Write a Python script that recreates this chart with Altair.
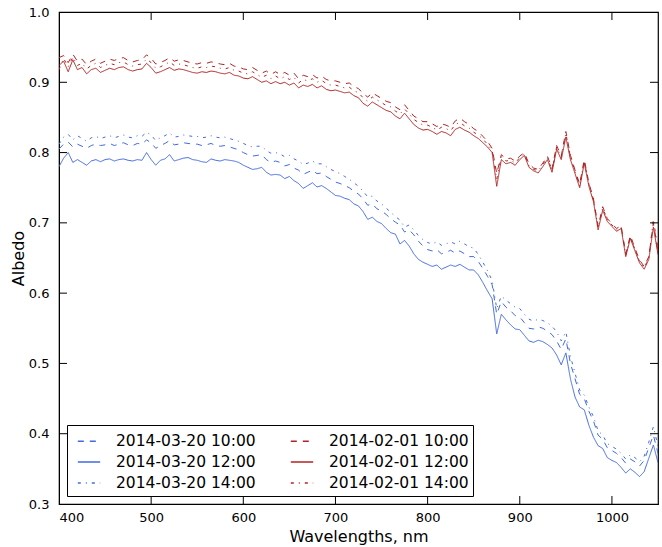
import altair as alt
import pandas as pd

wavelengths = list(range(400, 1051, 5))

b10 = [0.805, 0.812, 0.815, 0.808, 0.812, 0.809, 0.806, 0.810, 0.812, 0.810,
       0.811, 0.813, 0.810, 0.812, 0.814, 0.811, 0.810, 0.813, 0.812, 0.818,
       0.814, 0.806, 0.810, 0.813, 0.817, 0.811, 0.812, 0.814, 0.813, 0.812,
       0.812, 0.810, 0.811, 0.813, 0.810, 0.809, 0.810, 0.808, 0.806, 0.804,
       0.800, 0.797, 0.795, 0.796, 0.797, 0.790, 0.786, 0.788, 0.786, 0.781,
       0.783, 0.778, 0.775, 0.769, 0.772, 0.775, 0.770, 0.771, 0.766, 0.762,
       0.758, 0.756, 0.753, 0.750, 0.745, 0.741, 0.734, 0.725, 0.727, 0.720,
       0.717, 0.712, 0.706, 0.701, 0.697, 0.687, 0.690, 0.683, 0.674, 0.667,
       0.662, 0.660, 0.662, 0.656, 0.658, 0.661, 0.657, 0.660, 0.656, 0.652,
       0.652, 0.645, 0.635, 0.624, 0.612, 0.570, 0.588, 0.580, 0.575, 0.568,
       0.566, 0.558, 0.550, 0.549, 0.552, 0.550, 0.546, 0.541, 0.532, 0.520,
       0.535, 0.500, 0.478, 0.456, 0.450, 0.432, 0.418, 0.398, 0.392, 0.380,
       0.376, 0.372, 0.366, 0.358, 0.364, 0.360, 0.354, 0.362, 0.380, 0.398,
       0.372]

b12 = [0.780, 0.792, 0.800, 0.786, 0.790, 0.786, 0.782, 0.788, 0.790, 0.787,
       0.790, 0.791, 0.788, 0.790, 0.791, 0.789, 0.788, 0.790, 0.789, 0.800,
       0.790, 0.782, 0.789, 0.791, 0.797, 0.788, 0.790, 0.792, 0.793, 0.790,
       0.789, 0.787, 0.786, 0.791, 0.789, 0.788, 0.790, 0.789, 0.788, 0.786,
       0.782, 0.779, 0.776, 0.777, 0.779, 0.772, 0.768, 0.769, 0.768, 0.763,
       0.766, 0.760, 0.756, 0.749, 0.753, 0.757, 0.751, 0.753, 0.749, 0.744,
       0.739, 0.738, 0.735, 0.733, 0.727, 0.724, 0.716, 0.705, 0.708, 0.702,
       0.699, 0.692, 0.686, 0.684, 0.670, 0.675, 0.667, 0.656, 0.648, 0.644,
       0.641, 0.638, 0.640, 0.634, 0.637, 0.640, 0.638, 0.641, 0.637, 0.633,
       0.633, 0.626, 0.615, 0.603, 0.592, 0.542, 0.570, 0.562, 0.555, 0.549,
       0.548, 0.540, 0.532, 0.530, 0.533, 0.531, 0.527, 0.522, 0.512, 0.498,
       0.515, 0.478, 0.452, 0.438, 0.434, 0.412, 0.395, 0.383, 0.379, 0.366,
       0.362, 0.359, 0.352, 0.344, 0.350, 0.345, 0.339, 0.346, 0.365, 0.384,
       0.359]

b14 = [0.812, 0.822, 0.826, 0.818, 0.824, 0.820, 0.816, 0.821, 0.823, 0.820,
       0.822, 0.824, 0.821, 0.823, 0.825, 0.822, 0.821, 0.824, 0.823, 0.829,
       0.825, 0.817, 0.821, 0.824, 0.828, 0.822, 0.823, 0.825, 0.824, 0.823,
       0.823, 0.821, 0.822, 0.824, 0.822, 0.821, 0.822, 0.820, 0.818, 0.816,
       0.813, 0.810, 0.808, 0.809, 0.809, 0.803, 0.799, 0.800, 0.798, 0.794,
       0.796, 0.791, 0.788, 0.783, 0.785, 0.788, 0.784, 0.784, 0.780, 0.776,
       0.773, 0.770, 0.766, 0.762, 0.757, 0.752, 0.745, 0.737, 0.738, 0.731,
       0.727, 0.721, 0.715, 0.709, 0.704, 0.694, 0.697, 0.690, 0.682, 0.676,
       0.672, 0.670, 0.673, 0.668, 0.670, 0.673, 0.670, 0.674, 0.670, 0.666,
       0.664, 0.655, 0.644, 0.632, 0.618, 0.578, 0.596, 0.590, 0.585, 0.580,
       0.578, 0.570, 0.563, 0.560, 0.563, 0.561, 0.558, 0.553, 0.545, 0.532,
       0.545, 0.510, 0.486, 0.462, 0.455, 0.438, 0.424, 0.404, 0.398, 0.386,
       0.382, 0.378, 0.372, 0.364, 0.370, 0.366, 0.360, 0.368, 0.388, 0.410,
       0.382]

r10 = [0.935, 0.938, 0.928, 0.940, 0.930, 0.933, 0.925, 0.930, 0.933, 0.927,
       0.930, 0.933, 0.931, 0.934, 0.935, 0.931, 0.929, 0.931, 0.932, 0.939,
       0.934, 0.926, 0.928, 0.931, 0.935, 0.930, 0.932, 0.931, 0.929, 0.927,
       0.926, 0.928, 0.927, 0.929, 0.928, 0.926, 0.925, 0.927, 0.923, 0.922,
       0.919, 0.918, 0.921, 0.917, 0.913, 0.916, 0.911, 0.915, 0.911, 0.914,
       0.910, 0.913, 0.905, 0.910, 0.908, 0.911, 0.906, 0.909, 0.904, 0.902,
       0.902, 0.900, 0.898, 0.899, 0.894, 0.891, 0.884, 0.879, 0.885, 0.881,
       0.877, 0.873, 0.871, 0.865, 0.861, 0.868, 0.860, 0.852, 0.848, 0.844,
       0.844, 0.841, 0.837, 0.841, 0.839, 0.836, 0.845, 0.849, 0.844, 0.840,
       0.834, 0.830, 0.823, 0.816, 0.806, 0.770, 0.797, 0.791, 0.792, 0.788,
       0.795, 0.800, 0.784, 0.778, 0.776, 0.785, 0.795, 0.777, 0.810, 0.795,
       0.830, 0.796, 0.775, 0.755, 0.790, 0.757, 0.734, 0.695, 0.723, 0.706,
       0.699, 0.692, 0.696, 0.656, 0.682, 0.664, 0.647, 0.638, 0.652, 0.700,
       0.660]

r12 = [0.924, 0.930, 0.915, 0.932, 0.918, 0.921, 0.912, 0.918, 0.920, 0.914,
       0.917, 0.920, 0.918, 0.921, 0.922, 0.918, 0.916, 0.918, 0.919, 0.927,
       0.921, 0.913, 0.915, 0.918, 0.921, 0.917, 0.919, 0.918, 0.916, 0.914,
       0.913, 0.915, 0.914, 0.916, 0.915, 0.913, 0.912, 0.914, 0.910, 0.909,
       0.906, 0.905, 0.908, 0.904, 0.900, 0.902, 0.898, 0.901, 0.898, 0.900,
       0.896, 0.899, 0.892, 0.896, 0.894, 0.897, 0.892, 0.895, 0.890, 0.888,
       0.889, 0.887, 0.885, 0.886, 0.881, 0.878, 0.870, 0.866, 0.872, 0.868,
       0.864, 0.860, 0.858, 0.852, 0.848, 0.856, 0.848, 0.840, 0.835, 0.832,
       0.833, 0.830, 0.826, 0.830, 0.828, 0.824, 0.833, 0.836, 0.832, 0.829,
       0.824, 0.820, 0.814, 0.808, 0.800, 0.752, 0.790, 0.784, 0.786, 0.782,
       0.790, 0.796, 0.779, 0.774, 0.771, 0.780, 0.790, 0.772, 0.805, 0.790,
       0.822, 0.790, 0.770, 0.750, 0.785, 0.752, 0.730, 0.690, 0.718, 0.702,
       0.695, 0.688, 0.692, 0.652, 0.678, 0.660, 0.643, 0.634, 0.648, 0.694,
       0.655]

r14 = [0.918, 0.934, 0.922, 0.936, 0.924, 0.927, 0.919, 0.924, 0.927, 0.921,
       0.924, 0.927, 0.925, 0.928, 0.929, 0.925, 0.923, 0.925, 0.926, 0.933,
       0.928, 0.920, 0.922, 0.925, 0.929, 0.924, 0.926, 0.925, 0.923, 0.921,
       0.920, 0.922, 0.921, 0.923, 0.922, 0.920, 0.919, 0.921, 0.917, 0.916,
       0.913, 0.912, 0.915, 0.911, 0.907, 0.910, 0.905, 0.909, 0.905, 0.908,
       0.904, 0.907, 0.899, 0.904, 0.902, 0.905, 0.900, 0.903, 0.898, 0.896,
       0.896, 0.894, 0.892, 0.893, 0.888, 0.885, 0.878, 0.873, 0.879, 0.875,
       0.871, 0.867, 0.865, 0.859, 0.855, 0.862, 0.855, 0.847, 0.843, 0.839,
       0.839, 0.836, 0.832, 0.836, 0.834, 0.831, 0.840, 0.843, 0.838, 0.835,
       0.829, 0.825, 0.819, 0.812, 0.803, 0.762, 0.794, 0.788, 0.789, 0.785,
       0.793, 0.798, 0.781, 0.776, 0.774, 0.783, 0.793, 0.775, 0.808, 0.793,
       0.827, 0.794, 0.773, 0.753, 0.788, 0.755, 0.733, 0.693, 0.721, 0.705,
       0.697, 0.690, 0.694, 0.654, 0.680, 0.662, 0.645, 0.636, 0.650, 0.705,
       0.662]

series_names = ["2014-03-20 10:00", "2014-03-20 12:00", "2014-03-20 14:00",
                "2014-02-01 10:00", "2014-02-01 12:00", "2014-02-01 14:00"]
series_values = [b10, b12, b14, r10, r12, r14]

BLUE = "#4169E1"
RED = "#B22222"
colors = [BLUE, BLUE, BLUE, RED, RED, RED]
dashes = [[6, 6], [1, 0], [3, 5, 1, 5], [6, 6], [1, 0], [3, 5, 1, 5]]

x_ticks = [400, 500, 600, 700, 800, 900, 1000]
y_ticks = [0.3, 0.4, 0.5, 0.6, 0.7, 0.8, 0.9, 1.0]

rows = []
for name, vals in zip(series_names, series_values):
    for w, v in zip(wavelengths, vals):
        rows.append({"wl": w, "albedo": v, "series": name})
df = pd.DataFrame(rows)

W, H = 599, 492
FONT = "DejaVu Sans"

xscale = alt.Scale(domain=[400, 1050], nice=False, zero=False)
yscale = alt.Scale(domain=[0.3, 1.0], nice=False, zero=False)

legend_cfg = dict(title=None, orient="none", legendX=8, legendY=413,
                  columns=2, symbolType="stroke", symbolSize=500,
                  symbolStrokeWidth=1.5, labelFontSize=15.5,
                  labelFont=FONT, labelColor="black",
                  labelLimit=300, columnPadding=28, rowPadding=0,
                  padding=4, strokeColor="black",
                  fillColor="white", labelOffset=15,
                  symbolOffset=6, direction="vertical")

lines = alt.Chart(df).mark_line(strokeWidth=1, clip=True).encode(
    x=alt.X("wl:Q", scale=xscale,
            axis=alt.Axis(title="Wavelengths, nm", values=x_ticks, format="d",
                          ticks=False, grid=False, labelPadding=7,
                          titlePadding=4)),
    y=alt.Y("albedo:Q", scale=yscale,
            axis=alt.Axis(title="Albedo", values=y_ticks, format=".1f",
                          ticks=False, grid=False, labelPadding=10,
                          titlePadding=2)),
    color=alt.Color("series:N", scale=alt.Scale(domain=series_names, range=colors),
                    legend=alt.Legend(**legend_cfg)),
    strokeDash=alt.StrokeDash("series:N",
                              scale=alt.Scale(domain=series_names, range=dashes),
                              legend=alt.Legend(**legend_cfg)),
    detail="series:N",
)

xt = pd.DataFrame({"v": x_ticks[1:]})
yt = pd.DataFrame({"v": y_ticks[1:-1]})

tick_bottom = alt.Chart(xt).mark_rule(color="black", strokeWidth=1).encode(
    x=alt.X("v:Q", scale=xscale), y=alt.value(H), y2=alt.value(H - 8))
tick_top = alt.Chart(xt).mark_rule(color="black", strokeWidth=1).encode(
    x=alt.X("v:Q", scale=xscale), y=alt.value(0), y2=alt.value(8))
tick_left = alt.Chart(yt).mark_rule(color="black", strokeWidth=1).encode(
    y=alt.Y("v:Q", scale=yscale), x=alt.value(0), x2=alt.value(8))
tick_right = alt.Chart(yt).mark_rule(color="black", strokeWidth=1).encode(
    y=alt.Y("v:Q", scale=yscale), x=alt.value(W), x2=alt.value(W - 8))

chart = alt.layer(lines, tick_bottom, tick_top, tick_left, tick_right).properties(
    width=W, height=H,
    background="white",
    autosize=alt.AutoSizeParams(type="none"),
    padding={"left": 59, "top": 12, "right": 4, "bottom": 43},
).configure_view(
    stroke="black", strokeWidth=1.2
).configure_axis(
    labelFont=FONT, titleFont=FONT, labelFontSize=13, titleFontSize=16,
    labelColor="black", titleColor="black", titleFontWeight="normal",
    domainColor="black", domain=True
)

chart.save("out.html", embed_options={"renderer": "svg", "actions": False})
